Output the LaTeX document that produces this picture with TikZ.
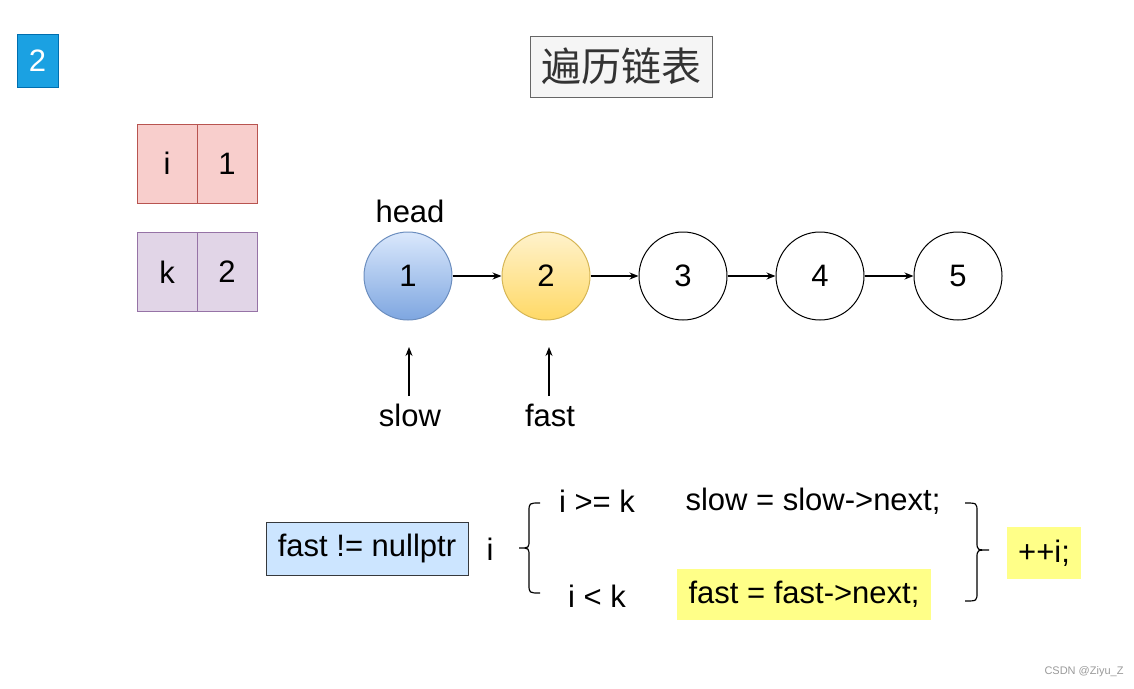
\documentclass[tikz,border=0pt]{standalone}
\usepackage{fontspec}
\setmainfont{Liberation Sans}
\newfontfamily\cjk{Noto Sans CJK SC}
\usetikzlibrary{arrows.meta,shapes.geometric}
\definecolor{badgefill}{HTML}{1BA1E2}
\definecolor{badgeline}{HTML}{006EAF}
\definecolor{titlefill}{HTML}{F5F5F5}
\definecolor{titleline}{HTML}{666666}
\definecolor{titletext}{HTML}{333333}
\definecolor{redfill}{HTML}{F8CECC}
\definecolor{redline}{HTML}{B85450}
\definecolor{purfill}{HTML}{E1D5E7}
\definecolor{purline}{HTML}{9673A6}
\definecolor{bluetop}{HTML}{DAE8FC}
\definecolor{bluebot}{HTML}{7EA6E0}
\definecolor{blueline}{HTML}{6C8EBF}
\definecolor{yeltop}{HTML}{FFF2CC}
\definecolor{yelbot}{HTML}{FFD966}
\definecolor{yelline}{HTML}{D6B656}
\definecolor{condfill}{HTML}{CCE5FF}
\definecolor{condline}{HTML}{36393D}
\definecolor{hilite}{HTML}{FFFF88}
\definecolor{wmark}{HTML}{9A9A9A}
\tikzset{
  bigfont/.style={font=\fontsize{31}{34}\selectfont},
  txt/.style={inner sep=0pt, bigfont},
  cell/.style={draw, line width=1pt, minimum width=60pt, minimum height=79pt, inner sep=0pt, bigfont},
  listnode/.style={circle, draw, line width=1pt, minimum size=88pt, inner sep=0pt, bigfont},
  link/.style={line width=1.2pt, -{Stealth[length=9pt,width=7pt]}},
  brace/.style={line width=1.2pt},
}
\begin{document}
\begin{tikzpicture}[x=1pt,y=-1pt]
\useasboundingbox (0,0) rectangle (1134,688);
% badge
\node[draw=badgeline, fill=badgefill, line width=1pt, minimum width=41pt, minimum height=53pt, inner sep=0pt, text=white, bigfont] (badge) at (37.5,60.5) {2};
% title
\node[draw=titleline, fill=titlefill, line width=1pt, minimum width=182pt, minimum height=61pt, inner sep=0pt, text=titletext, font=\cjk\fontsize{40}{44}\selectfont] (title) at (621,66.5) {遍历链表};
% variable cells
\node[cell, draw=redline, fill=redfill] (iname) at (167,163.5) {i};
\node[cell, draw=redline, fill=redfill] (ival) at (227,163.5) {1};
\node[cell, draw=purline, fill=purfill] (kname) at (167,272) {k};
\node[cell, draw=purline, fill=purfill] (kval) at (227,272) {2};
% list
\node[listnode, draw=blueline, top color=bluetop, bottom color=bluebot] (n1) at (408,276) {1};
\node[listnode, draw=yelline, top color=yeltop, bottom color=yelbot] (n2) at (546,276) {2};
\node[listnode] (n3) at (683,276) {3};
\node[listnode] (n4) at (820,276) {4};
\node[listnode] (n5) at (958,276) {5};
\draw[link] (n1) -- (n2);
\draw[link] (n2) -- (n3);
\draw[link] (n3) -- (n4);
\draw[link] (n4) -- (n5);
\node[txt] (head) at (410,211) {head};
\node[txt] (slow) at (410,415) {slow};
\node[txt] (fast) at (550,415) {fast};
\coordinate (slowtip) at (409,347);
\coordinate (fasttip) at (549,347);
\draw[link] (409,396) -- (slowtip);
\draw[link] (549,396) -- (fasttip);
% loop
\node[draw=condline, fill=condfill, line width=1pt, minimum width=202pt, minimum height=53pt, inner sep=0pt, bigfont] (cond) at (367,548.5) {fast != nullptr};
\node[txt] (ivar) at (490,549) {i};
\draw[brace] (540,503) .. controls (529,503) .. (529,512) -- (529,540) .. controls (529,548) .. (519,548)
             .. controls (529,548) .. (529,556) -- (529,584) .. controls (529,593) .. (540,593);
\node[txt] (ge) at (597,501) {i >= k};
\node[txt] (lt) at (597,596) {i < k};
\node[txt] (slowstep) at (813,501) {slow = slow->next;};
\node[fill=hilite, minimum width=254pt, minimum height=51pt, inner sep=0pt, bigfont] (faststep) at (804,594.5) {fast = fast->next;};
\draw[brace] (965,503) .. controls (977,503) .. (977,512) -- (977,542) .. controls (977,550) .. (989,550)
             .. controls (977,550) .. (977,558) -- (977,592) .. controls (977,601) .. (965,601);
\node[fill=hilite, minimum width=74pt, minimum height=52pt, inner sep=0pt, bigfont] (inc) at (1044,553) {++i;};
\node[inner sep=0pt, text=wmark, font=\fontsize{11}{13}\selectfont] (wm) at (1084,672) {CSDN @Ziyu\_Z};
\end{tikzpicture}
\end{document}
